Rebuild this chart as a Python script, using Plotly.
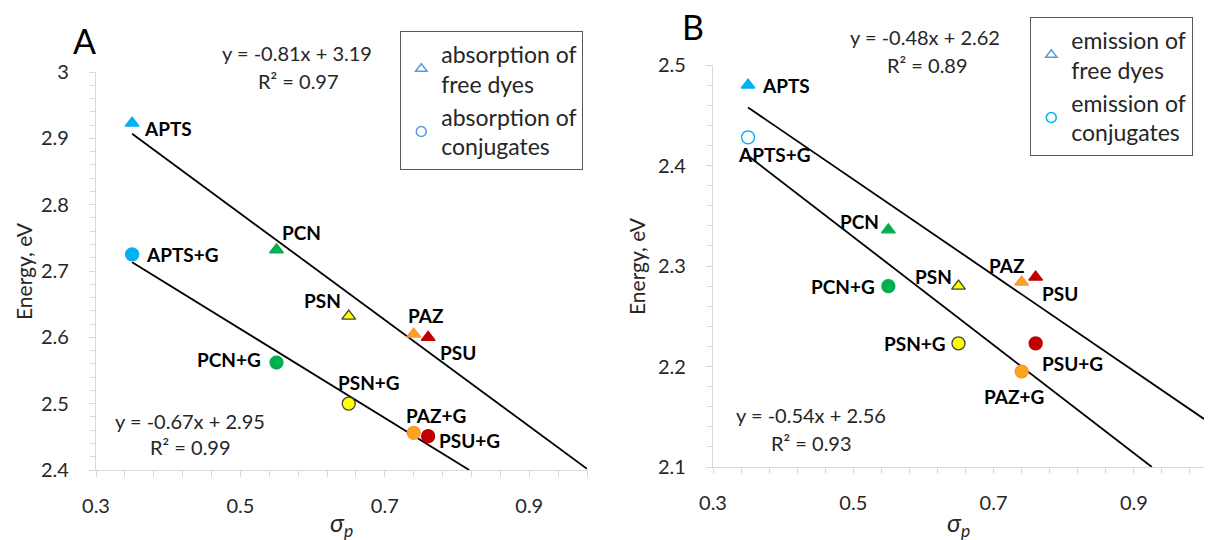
import numpy as np
import plotly.graph_objects as go

# ---------------- data ----------------
dyes = ["APTS", "PCN", "PSN", "PAZ", "PSU"]
sigma_p = [0.35, 0.55, 0.65, 0.74, 0.76]

# Panel A: absorption
abs_free = [2.923, 2.732, 2.632, 2.605, 2.600]
abs_conj = [2.725, 2.562, 2.500, 2.456, 2.451]
# Panel B: emission
em_free = [2.480, 2.336, 2.280, 2.284, 2.289]
em_conj = [2.428, 2.280, 2.223, 2.195, 2.223]

eq_A_free = ["y = -0.81x + 3.19", "R² = 0.97"]
eq_A_conj = ["y = -0.67x + 2.95", "R² = 0.99"]
eq_B_free = ["y = -0.48x + 2.62", "R² = 0.89"]
eq_B_conj = ["y = -0.54x + 2.56", "R² = 0.93"]

x_ticks = [0.3, 0.5, 0.7, 0.9]

# ---------------- styles ----------------
FONT = "Lato"
fill_colors = {"APTS": "#00B0F0", "PCN": "#00B050", "PSN": "#FFFF00",
               "PAZ": "#FFA31A", "PSU": "#C00000"}
edge_colors = {"APTS": "#00B0F0", "PCN": "#00B050", "PSN": "#404040",
               "PAZ": "#F79646", "PSU": "#C00000"}

# label offsets (px): (xanchor, xshift, yshift)
lab_A_free = {"APTS": ("left", 10, -5), "PCN": ("left", 3, 17), "PSN": ("right", -6, 16),
              "PAZ": ("center", 12, 19), "PSU": ("left", 10, -15)}
lab_A_conj = {"APTS": ("left", 12, 0), "PCN": ("right", -14, 3), "PSN": ("center", 20, 21),
              "PAZ": ("center", 22, 17), "PSU": ("left", 9, -4)}
lab_B_free = {"APTS": ("left", 12, 0), "PCN": ("right", -7, 8), "PSN": ("right", -4, 10),
              "PAZ": ("right", 5, 17), "PSU": ("left", 4, -16)}
lab_B_conj = {"APTS": ("center", 26, -17), "PCN": ("right", -11, 0), "PSN": ("right", -10, 0),
              "PAZ": ("center", -8, -25), "PSU": ("left", 4, -20)}

rangeA_x, rangeA_y = [0.3, 0.98], [2.4, 3.0]
rangeB_x, rangeB_y = [0.3, 1.0], [2.1, 2.5]

fig = go.Figure()


def add_points(xs, ys, xa, ya, symbol, open_first=False):
    for i, d in enumerate(dyes):
        fc = fill_colors[d]
        ec = edge_colors[d]
        if open_first and i == 0:
            fc = "white"
        fig.add_trace(go.Scatter(
            x=[xs[i]], y=[ys[i]], mode="markers", xaxis=xa, yaxis=ya,
            showlegend=False,
            marker=dict(symbol=symbol, size=12 if "triangle" in symbol else 13,
                        color=fc, line=dict(color=ec, width=1.3))))


def add_fit(xs, ys, xa, ya, xr, yr):
    m, b = np.polyfit(xs, ys, 1)
    x0 = min(xs)
    x1 = min(xr[1], (yr[0] - b) / m)
    fig.add_trace(go.Scatter(x=[x0, x1], y=[m * x0 + b, m * x1 + b], mode="lines",
                             xaxis=xa, yaxis=ya, showlegend=False,
                             line=dict(color="black", width=1.8)))


def add_labels(xs, ys, xa, ya, offsets, suffix=""):
    for i, d in enumerate(dyes):
        anc, dx, dy = offsets[d]
        fig.add_annotation(x=xs[i], y=ys[i], xref=xa, yref=ya, text="<b>" + d + suffix + "</b>",
                           showarrow=False, xanchor=anc, yanchor="middle", xshift=dx, yshift=dy,
                           font=dict(family=FONT, size=19, color="black"))


# fits first (beneath markers)
add_fit(sigma_p, abs_free, "x", "y", rangeA_x, rangeA_y)
add_fit(sigma_p, abs_conj, "x", "y", rangeA_x, rangeA_y)
add_fit(sigma_p, em_free, "x2", "y2", rangeB_x, rangeB_y)
add_fit(sigma_p, em_conj, "x2", "y2", rangeB_x, rangeB_y)

add_points(sigma_p, abs_free, "x", "y", "triangle-up")
add_points(sigma_p, abs_conj, "x", "y", "circle")
add_points(sigma_p, em_free, "x2", "y2", "triangle-up")
add_points(sigma_p, em_conj, "x2", "y2", "circle", open_first=True)

add_labels(sigma_p, abs_free, "x", "y", lab_A_free)
add_labels(sigma_p, abs_conj, "x", "y", lab_A_conj, "+G")
add_labels(sigma_p, em_free, "x2", "y2", lab_B_free)
add_labels(sigma_p, em_conj, "x2", "y2", lab_B_conj, "+G")

# legend dummies
fig.add_trace(go.Scatter(x=[None], y=[None], mode="markers", name="absorption of<br>free dyes",
                         marker=dict(symbol="triangle-up-open", size=10, color="#5B9BD5",
                                     line=dict(width=1.5)), legend="legend"))
fig.add_trace(go.Scatter(x=[None], y=[None], mode="markers", name="absorption of<br>conjugates",
                         marker=dict(symbol="circle-open", size=10, color="#5B9BD5",
                                     line=dict(width=1.5)), legend="legend"))
fig.add_trace(go.Scatter(x=[None], y=[None], mode="markers", name="emission of<br>free dyes",
                         xaxis="x2", yaxis="y2",
                         marker=dict(symbol="triangle-up-open", size=10, color="#5B9BD5",
                                     line=dict(width=1.5)), legend="legend2"))
fig.add_trace(go.Scatter(x=[None], y=[None], mode="markers", name="emission of<br>conjugates",
                         xaxis="x2", yaxis="y2",
                         marker=dict(symbol="circle-open", size=10, color="#00B0F0",
                                     line=dict(width=1.5)), legend="legend2"))

AX = "#D9D9D9"
TICKF = dict(family=FONT, size=20, color="#262626")


def xaxis(dom, rng):
    return dict(domain=dom, range=rng, tick0=0.3, dtick=0.2, tickvals=x_ticks,
                showline=True, linecolor=AX, linewidth=1.3, ticks="outside", ticklen=6,
                tickcolor=AX, tickwidth=1.3, showgrid=False, zeroline=False, tickfont=TICKF,
                ticklabelstandoff=12, automargin=False,
                minor=dict(tick0=0.3, dtick=0.04, ticks="outside", ticklen=6, tickcolor=AX,
                           tickwidth=1.3, showgrid=False))


def yaxis(dom, rng, anchor):
    return dict(domain=dom, range=rng, tick0=rng[0], dtick=0.1, anchor=anchor,
                showline=True, linecolor=AX, linewidth=1.3, ticks="outside", ticklen=6,
                tickcolor=AX, tickwidth=1.3, showgrid=False, zeroline=False, tickfont=TICKF,
                ticklabelstandoff=16, automargin=False,
                minor=dict(tick0=rng[0], dtick=0.02, ticks="outside", ticklen=5, tickcolor=AX,
                           tickwidth=1.3, showgrid=False))


W, H = 1214, 540
fig.update_layout(
    width=W, height=H, margin=dict(l=0, r=0, t=0, b=0, autoexpand=False),
    paper_bgcolor="white", plot_bgcolor="white",
    font=dict(family=FONT, color="#262626"),
    xaxis=xaxis([96 / W, 587 / W], rangeA_x),
    yaxis=yaxis([(H - 470) / H, (H - 72) / H], rangeA_y, "x"),
    xaxis2=xaxis([713 / W, 1204 / W], rangeB_x) | dict(anchor="y2"),
    yaxis2=yaxis([(H - 467) / H, (H - 65) / H], rangeB_y, "x2"),
    legend=dict(x=400 / W, y=(H - 31) / H, xanchor="left", yanchor="top",
                bordercolor="#595959", borderwidth=1.3, bgcolor="white",
                font=dict(family=FONT, size=23, color="#262626"), tracegroupgap=6),
    legend2=dict(x=1030 / W, y=(H - 17) / H, xanchor="left", yanchor="top",
                 bordercolor="#595959", borderwidth=1.3, bgcolor="white",
                 font=dict(family=FONT, size=23, color="#262626"), tracegroupgap=6),
    showlegend=True,
)


def paper_text(px, py, text, size=20, angle=0, color="#262626"):
    fig.add_annotation(x=px / W, y=(H - py) / H, xref="paper", yref="paper", text=text,
                       showarrow=False, xanchor="center", yanchor="middle", textangle=angle,
                       font=dict(family=FONT, size=size, color=color))


# panel letters
paper_text(84, 40, "A", size=34, color="black")
paper_text(693, 26, "B", size=34, color="black")
# equations
paper_text(297, 53, eq_A_free[0]); paper_text(298, 81, eq_A_free[1])
paper_text(190, 421, eq_A_conj[0]); paper_text(190, 447, eq_A_conj[1])
paper_text(925, 37, eq_B_free[0]); paper_text(927, 65, eq_B_free[1])
paper_text(811, 415, eq_B_conj[0]); paper_text(811, 443, eq_B_conj[1])
# axis titles
paper_text(24, 271, "Energy, eV", size=21, angle=-90)
paper_text(636, 266, "Energy, eV", size=21, angle=-90)
paper_text(341, 524, "<i>σ</i><sub><i>p</i></sub>", size=25)
paper_text(958, 524, "<i>σ</i><sub><i>p</i></sub>", size=25)

fig.write_html("out.html")
